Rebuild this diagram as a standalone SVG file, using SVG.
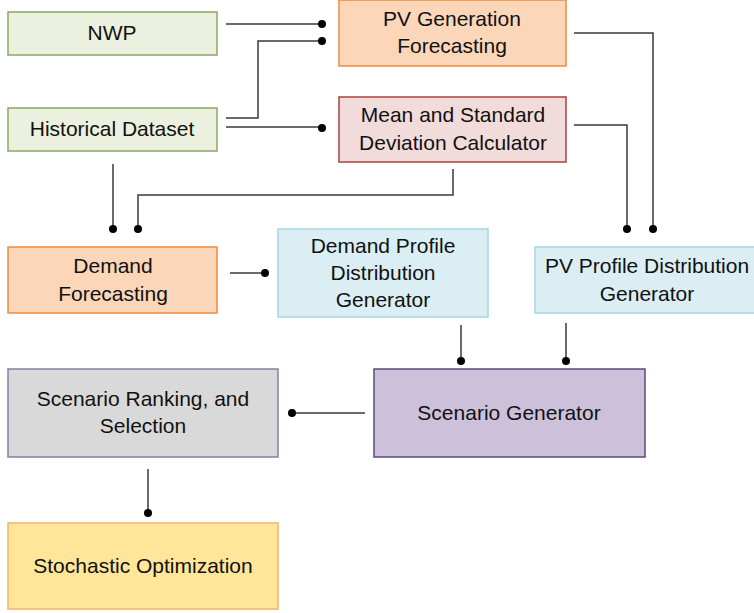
<svg xmlns="http://www.w3.org/2000/svg" width="754" height="613" viewBox="0 0 754 613">
<style>
text{font-family:"Liberation Sans",Arial,sans-serif;font-size:21px;fill:#111;text-anchor:middle}
.box{stroke-width:1.5}
.c{fill:none;stroke:#3a3a3a;stroke-width:1.5}
.d{fill:#000}
</style>
<rect width="754" height="613" fill="#fff"/>
<g id="nwp"><rect class="box" x="8" y="12" width="209" height="43" fill="#EBF1DE" stroke="#8AA662"/><text x="112" y="40">NWP</text></g>
<g id="historical"><rect class="box" x="8" y="108" width="209" height="43" fill="#EBF1DE" stroke="#8AA662"/><text x="112" y="136">Historical Dataset</text></g>
<g id="pvgen"><rect class="box" x="339" y="0" width="227" height="66" fill="#FBD6B8" stroke="#F08A3C"/><text x="452" y="26">PV Generation</text><text x="452" y="53">Forecasting</text></g>
<g id="meanstd"><rect class="box" x="339" y="97" width="227" height="65" fill="#F2DCDB" stroke="#A9413D"/><text x="453" y="122">Mean and Standard</text><text x="453" y="150">Deviation Calculator</text></g>
<g id="demandfc"><rect class="box" x="8" y="247" width="209" height="66" fill="#FBD6B8" stroke="#F08A3C"/><text x="113" y="273">Demand</text><text x="113" y="301">Forecasting</text></g>
<g id="demandprof"><rect class="box" x="278" y="229" width="210" height="88" fill="#DAEEF3" stroke="#A6D6E2"/><text x="383" y="253">Demand Profile</text><text x="383" y="280">Distribution</text><text x="383" y="307">Generator</text></g>
<g id="pvprof"><rect class="box" x="535" y="247" width="222" height="66" fill="#DAEEF3" stroke="#A6D6E2"/><text x="647" y="273">PV Profile Distribution</text><text x="647" y="301">Generator</text></g>
<g id="scengen"><rect class="box" x="374" y="369" width="271" height="88" fill="#CCC0DA" stroke="#5F497A"/><text x="509" y="420">Scenario Generator</text></g>
<g id="scenrank"><rect class="box" x="8" y="369" width="270" height="88" fill="#D9D9D9" stroke="#8C7BA3"/><text x="143" y="406">Scenario Ranking, and</text><text x="143" y="433">Selection</text></g>
<g id="stochopt"><rect class="box" x="8" y="523" width="270" height="86" fill="#FFE699" stroke="#F6B26B"/><text x="143" y="573">Stochastic Optimization</text></g>
<g id="connectors">
<path class="c" d="M226 24H322"/><circle class="d" cx="322" cy="24" r="4"/>
<path class="c" d="M226 118H258V41H322"/><circle class="d" cx="322" cy="41" r="4"/>
<path class="c" d="M226 127H322"/><circle class="d" cx="322" cy="128" r="4"/>
<path class="c" d="M574 33H653V229"/><circle class="d" cx="653" cy="229" r="4"/>
<path class="c" d="M574 125H627V229"/><circle class="d" cx="627" cy="229" r="4"/>
<path class="c" d="M453 169V195H138V229"/><circle class="d" cx="138" cy="229" r="4"/>
<path class="c" d="M113 164V229"/><circle class="d" cx="113" cy="229" r="4"/>
<path class="c" d="M230 273H265"/><circle class="d" cx="265" cy="273" r="4"/>
<path class="c" d="M461 325V361"/><circle class="d" cx="461" cy="361" r="4"/>
<path class="c" d="M566 323V361"/><circle class="d" cx="566" cy="361" r="4"/>
<path class="c" d="M365 413H292"/><circle class="d" cx="292" cy="413" r="4"/>
<path class="c" d="M148 469V513"/><circle class="d" cx="148" cy="513" r="4"/>
</g>
</svg>
